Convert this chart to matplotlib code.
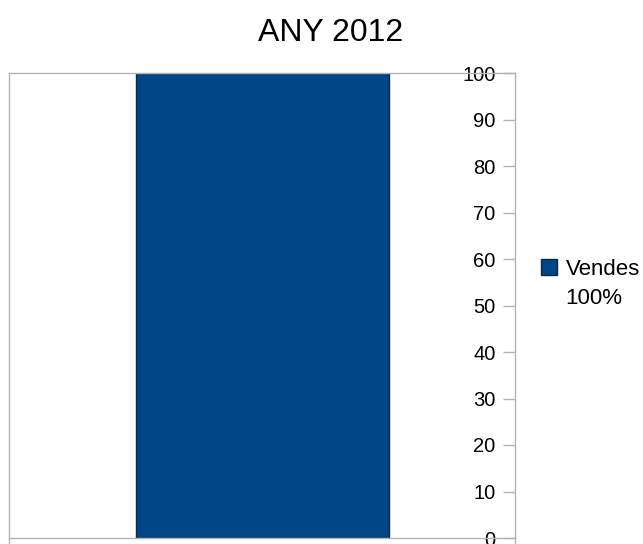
import matplotlib
matplotlib.use("Agg")
import matplotlib.pyplot as plt
from matplotlib.patches import Patch

# Données du graphique
titre = "ANY 2012"
categories = ["Vendes"]
valeurs = [100]
etiquette_legende = ["Vendes", "100%"]
graduations = list(range(0, 101, 10))

bleu = "#004586"
gris = "#b3b3b3"

plt.rcParams['font.family'] = ['Liberation Sans', 'DejaVu Sans']

fig = plt.figure(figsize=(6.43, 5.44), dpi=100)
ax = fig.add_axes([9/643, 6/544, (515-9)/643, (538-73)/544])

barres = ax.bar(range(len(categories)), valeurs, width=1.0, color=bleu,
                edgecolor="#0d2a48", linewidth=1.0)

ax.set_xlim(-1, 1)
ax.set_ylim(0, 100)

# axe y à droite, étiquettes à l'intérieur
ax.set_yticks(graduations)
ax.tick_params(axis='y', left=False, labelleft=False, right=True, labelright=True,
               direction='in', length=8.5, width=1, color=gris, pad=-14, labelsize=14.5)
for lab in ax.get_yticklabels():
    lab.set_ha('right')

ax.set_xticks([-1, 1])
ax.tick_params(axis='x', labelbottom=False, direction='out', length=5, width=1, color=gris)

for s in ax.spines.values():
    s.set_color(gris)
    s.set_linewidth(1)

fig.text(331/643, 1 - 33/544, titre, ha='center', va='center', fontsize=23)

# légende
poignees = [Patch(facecolor=bleu, edgecolor="#0d2a48", linewidth=1.0),
            Patch(visible=False)]
fig.legend(poignees, etiquette_legende, loc='upper left',
           bbox_to_anchor=(541/643, 1 - 259/544), frameon=False, fontsize=16,
           handlelength=0.7, handleheight=0.7, handletextpad=0.4,
           borderpad=0, borderaxespad=0, labelspacing=0.35)

fig.savefig("out.png", dpi=100)
